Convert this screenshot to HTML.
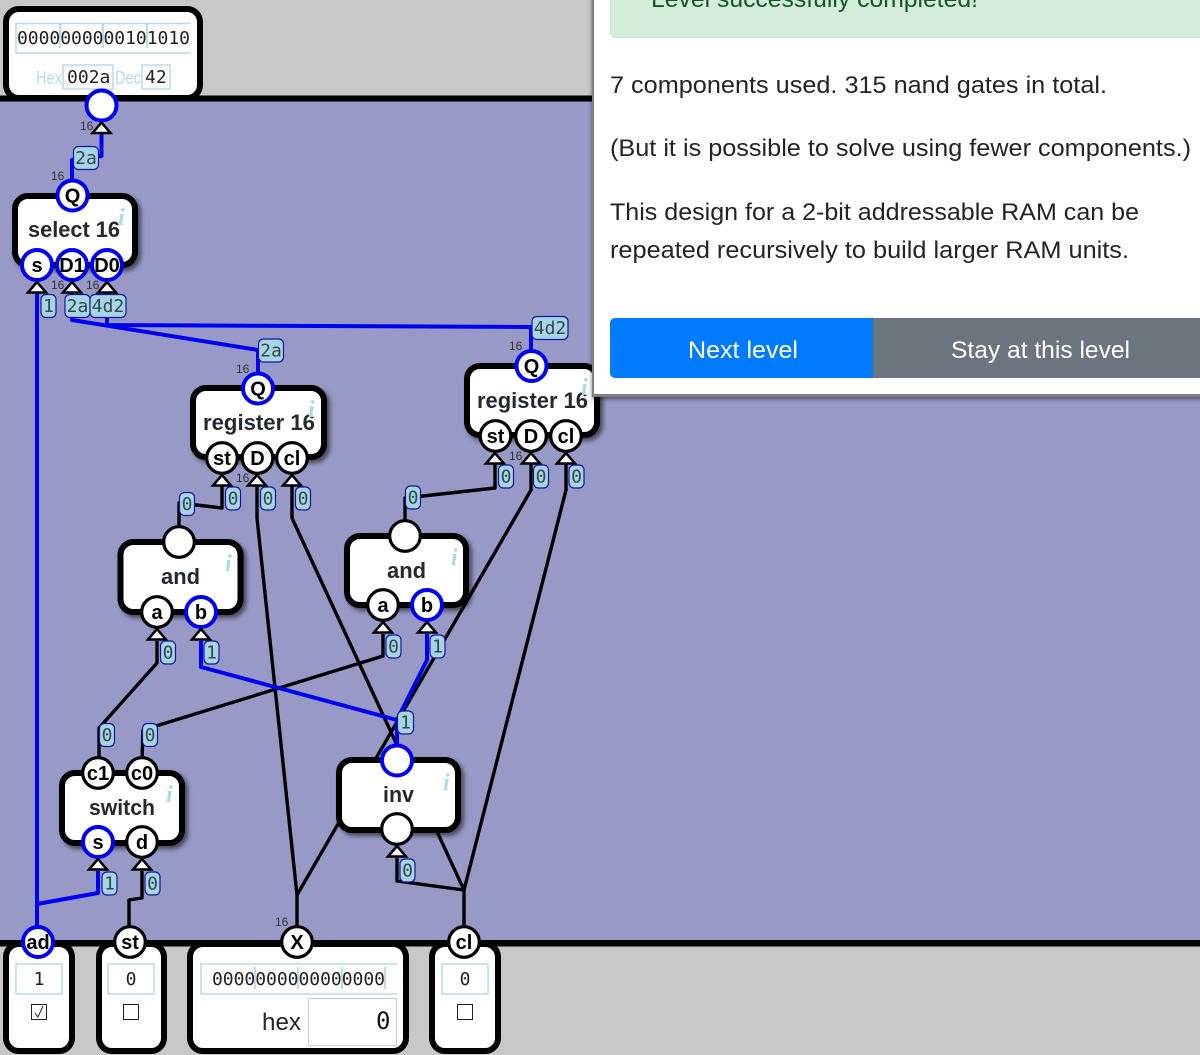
<!DOCTYPE html>
<html><head><meta charset="utf-8"><style>
html,body{margin:0;padding:0;background:#c8c8c8}
svg{display:block}
.s{font-family:"Liberation Sans",sans-serif}
.m{font-family:"DejaVu Sans Mono","Liberation Mono",monospace}
.t{font-family:"Liberation Sans",sans-serif;font-weight:bold;font-size:22px;fill:#222a30}
.p{font-family:"Liberation Sans",sans-serif;font-weight:bold;font-size:20px;fill:#000;text-anchor:middle}
.i{font-family:"Liberation Serif",serif;font-weight:bold;font-style:italic;font-size:24px;fill:#add8e6}
.n{font-family:"Liberation Sans",sans-serif;font-size:12px;fill:#333}
.l{font-family:"DejaVu Sans Mono",monospace;font-size:18px;fill:#34474f;text-anchor:middle}
.lb{fill:#a6d5e5;stroke:#1414a0;stroke-width:1.2}
.b{fill:#fff;stroke:#000;stroke-width:6}
.pk{fill:#fff;stroke:#000;stroke-width:3.2}
.pb{fill:#fff;stroke:#0000f0;stroke-width:4}
.w{fill:none;stroke:#000;stroke-width:3.4;stroke-linejoin:round}
.wb{fill:none;stroke:#0000f0;stroke-width:4;stroke-linejoin:round}
.a{fill:#fff;stroke:#000;stroke-width:2.5}
.f{fill:none;stroke:#b5dcea;stroke-width:1.5}
.d{stroke:#a5d2e2;stroke-width:1.5}
.v{font-family:"DejaVu Sans Mono",monospace;font-size:18px;fill:#222}
.c{font-family:"Liberation Sans",sans-serif;font-size:24px;fill:#212529}
.x{font-family:"Liberation Sans",sans-serif;font-size:18px;fill:#b5dcea}
</style></head><body>
<svg width="1200" height="1055" viewBox="0 0 1200 1055" xmlns="http://www.w3.org/2000/svg">
<defs>
<filter id="sh" x="-15%" y="-15%" width="135%" height="135%"><feDropShadow dx="3" dy="3" stdDeviation="2.5" flood-color="#000" flood-opacity=".55"/></filter>
<filter id="ps" x="-5%" y="-5%" width="110%" height="110%"><feDropShadow dx="0" dy="2" stdDeviation="2" flood-color="#000" flood-opacity=".5"/></filter>
</defs>

<rect width="1200" height="1055" fill="#c8c8c8"/>
<rect x="0" y="99" width="1200" height="844" fill="#9999c8"/>
<rect x="0" y="95.500" width="1200" height="6" fill="#000"/>
<rect x="0" y="940" width="1200" height="6.500" fill="#000"/>

<!-- output box -->
<rect class="b" x="6" y="9" width="194" height="89" rx="13"/>
<path class="f" d="M191 23.500H16V53H191"/>
<line class="d" x1="60" y1="24" x2="60" y2="48"/><line class="d" x1="103" y1="24" x2="103" y2="48"/><line class="d" x1="147" y1="24" x2="147" y2="48"/>
<text class="v" x="17" y="44" textLength="173">0000000000101010</text>
<text class="x" x="36" y="84" textLength="26" lengthAdjust="spacingAndGlyphs">Hex</text>
<rect class="f" x="63" y="65" width="50" height="24"/>
<text class="v" x="67" y="83">002a</text>
<text class="x" x="115" y="84" textLength="26" lengthAdjust="spacingAndGlyphs">Dec</text>
<rect class="f" x="142" y="65" width="28" height="24"/>
<text class="v" x="145" y="83">42</text>

<!-- wires black -->
<polyline class="w" points="222,486 222,508 179,503 179,530"/>
<polyline class="w" points="257,486 257,518 297,895 297,930"/>
<polyline class="w" points="292,486 292,518 464,890 464,930"/>
<polyline class="w" points="531,464 531,490 297,895"/>
<polyline class="w" points="566,464 566,490 464,890"/>
<polyline class="w" points="495,464 495,488 405,498 405,525"/>
<polyline class="w" points="157,641 157,663 99,728 99,760"/>
<polyline class="w" points="383,634 383,656 143,730 142,760"/>
<polyline class="w" points="142,871 142,898 129,900 129,930"/>
<polyline class="w" points="397,858 397,881 464,890"/>
<!-- wires blue -->
<polyline class="wb" points="101.500,134 101.500,156 72,160 72,182"/>
<polyline class="wb" points="37,292 37,930"/>
<polyline class="wb" points="72,292 72,320 258,350 258,376"/>
<polyline class="wb" points="107,292 107,325 531,327 531,352"/>
<polyline class="wb" points="201,641 201,667 397,720 397,748"/>
<polyline class="wb" points="427,634 427,660 397,720"/>
<polyline class="wb" points="98,871 98,893 37,904"/>

<!-- component boxes -->
<g filter="url(#sh)">
<rect class="b" x="15" y="196" width="120" height="69" rx="13"/>
<rect class="b" x="193" y="388" width="131" height="69" rx="13"/>
<rect class="b" x="467" y="366" width="130" height="69" rx="13"/>
<rect class="b" x="120.500" y="542" width="120" height="70" rx="13"/>
<rect class="b" x="347" y="536" width="119" height="69" rx="13"/>
<rect class="b" x="62" y="773" width="120" height="70" rx="13"/>
<rect class="b" x="339" y="760" width="119" height="70" rx="13"/>
</g>
<text class="t" x="28" y="237" textLength="92" lengthAdjust="spacingAndGlyphs">select 16</text>
<text class="i" x="118" y="225">i</text>
<text class="t" x="203" y="430" textLength="112" lengthAdjust="spacingAndGlyphs">register 16</text>
<text class="i" x="308" y="417">i</text>
<text class="t" x="477" y="408" textLength="111" lengthAdjust="spacingAndGlyphs">register 16</text>
<text class="i" x="581" y="395">i</text>
<text class="t" x="161" y="584" textLength="39" lengthAdjust="spacingAndGlyphs">and</text>
<text class="i" x="225" y="571">i</text>
<text class="t" x="387" y="578" textLength="39" lengthAdjust="spacingAndGlyphs">and</text>
<text class="i" x="451" y="565">i</text>
<text class="t" x="89" y="815" textLength="66" lengthAdjust="spacingAndGlyphs">switch</text>
<text class="i" x="166" y="802">i</text>
<text class="t" x="383" y="802" textLength="31" lengthAdjust="spacingAndGlyphs">inv</text>
<text class="i" x="443" y="790">i</text>

<!-- bottom input boxes -->
<rect class="b" x="6" y="944" width="66" height="107" rx="13"/>
<rect class="b" x="99" y="944" width="65" height="107" rx="13"/>
<rect class="b" x="190" y="944" width="216" height="107" rx="13"/>
<rect class="b" x="432" y="944" width="66" height="107" rx="13"/>
<rect class="f" x="16" y="964" width="46" height="30"/>
<text class="m" x="39" y="985" font-size="18" text-anchor="middle" fill="#222">1</text>
<rect x="31.500" y="1004.500" width="15" height="15" fill="#fff" stroke="#222" stroke-width="1"/>
<polyline points="35,1013 38,1017 43,1006" fill="none" stroke="#222" stroke-width="1"/>
<rect class="f" x="108" y="964" width="46" height="30"/>
<text class="m" x="131" y="985" font-size="18" text-anchor="middle" fill="#222">0</text>
<rect x="123.500" y="1004.500" width="15" height="15" fill="#fff" stroke="#222" stroke-width="1"/>
<rect class="f" x="442" y="964" width="46" height="30"/>
<text class="m" x="465" y="985" font-size="18" text-anchor="middle" fill="#222">0</text>
<rect x="457.500" y="1004.500" width="15" height="15" fill="#fff" stroke="#222" stroke-width="1"/>
<path class="f" d="M397 964H201V994H397"/>
<line class="d" x1="255" y1="967" x2="255" y2="989"/><line class="d" x1="298" y1="967" x2="298" y2="989"/><line class="d" x1="342" y1="967" x2="342" y2="989"/><line class="d" x1="385" y1="967" x2="385" y2="989"/>
<text class="v" x="212" y="985" textLength="173">0000000000000000</text>
<text class="c" x="262" y="1030" textLength="39" lengthAdjust="spacingAndGlyphs">hex</text>
<rect x="308.500" y="998.500" width="88" height="47" fill="#fff" stroke="#ccc" stroke-width="1"/>
<text class="m" x="376" y="1029" font-size="24" fill="#111">0</text>

<!-- pins -->
<circle class="pb" cx="101.500" cy="105.500" r="15"/>
<circle class="pb" cx="72.500" cy="195.500" r="15"/><text class="p" x="72.500" y="202.500">Q</text>
<circle class="pb" cx="37" cy="265" r="15"/><text class="p" x="37" y="272">s</text>
<circle class="pb" cx="72" cy="265" r="15"/><text class="p" x="72" y="272">D1</text>
<circle class="pb" cx="107" cy="265" r="15"/><text class="p" x="107" y="272">D0</text>
<circle class="pb" cx="258" cy="388.500" r="15"/><text class="p" x="258" y="395.500">Q</text>
<circle class="pk" cx="222" cy="458" r="15.300"/><text class="p" x="222" y="465">st</text>
<circle class="pk" cx="257.500" cy="458" r="15.300"/><text class="p" x="257.500" y="465">D</text>
<circle class="pk" cx="292" cy="458" r="15.300"/><text class="p" x="292" y="465">cl</text>
<circle class="pb" cx="531.500" cy="366" r="15"/><text class="p" x="531.500" y="373">Q</text>
<circle class="pk" cx="495.500" cy="436" r="15.300"/><text class="p" x="495.500" y="443">st</text>
<circle class="pk" cx="531" cy="436" r="15.300"/><text class="p" x="531" y="443">D</text>
<circle class="pk" cx="566" cy="436" r="15.300"/><text class="p" x="566" y="443">cl</text>
<circle class="pk" cx="179" cy="542" r="15.300"/>
<circle class="pk" cx="157" cy="612" r="15.300"/><text class="p" x="157" y="619">a</text>
<circle class="pb" cx="201" cy="612" r="15"/><text class="p" x="201" y="619">b</text>
<circle class="pk" cx="405" cy="536" r="15.300"/>
<circle class="pk" cx="383" cy="605" r="15.300"/><text class="p" x="383" y="612">a</text>
<circle class="pb" cx="427" cy="605" r="15"/><text class="p" x="427" y="612">b</text>
<circle class="pk" cx="98" cy="773" r="15.300"/><text class="p" x="98" y="780">c1</text>
<circle class="pk" cx="142" cy="773" r="15.300"/><text class="p" x="142" y="780">c0</text>
<circle class="pb" cx="98" cy="842" r="15"/><text class="p" x="98" y="849">s</text>
<circle class="pk" cx="142" cy="842" r="15.300"/><text class="p" x="142" y="849">d</text>
<circle class="pb" cx="397" cy="760.500" r="15"/>
<circle class="pk" cx="397" cy="829" r="15.300"/>
<circle class="pb" cx="38" cy="942" r="15"/><text class="p" x="38" y="949">ad</text>
<circle class="pk" cx="130" cy="942" r="15.300"/><text class="p" x="130" y="949">st</text>
<circle class="pk" cx="297" cy="942" r="15.300"/><text class="p" x="297" y="949">X</text>
<circle class="pk" cx="464" cy="942" r="15.300"/><text class="p" x="464" y="949">cl</text>

<!-- arrowheads -->
<polygon class="a" points="101.500,122.500 92.500,133 110.500,133"/>
<polygon class="a" points="37,282 28,292.500 46,292.500"/>
<polygon class="a" points="72,282 63,292.500 81,292.500"/>
<polygon class="a" points="107,282 98,292.500 116,292.500"/>
<polygon class="a" points="222,475 213,485.500 231,485.500"/>
<polygon class="a" points="257,475 248,485.500 266,485.500"/>
<polygon class="a" points="292,475 283,485.500 301,485.500"/>
<polygon class="a" points="495,453 486,463.500 504,463.500"/>
<polygon class="a" points="531,453 522,463.500 540,463.500"/>
<polygon class="a" points="566,453 557,463.500 575,463.500"/>
<polygon class="a" points="157,629 148,639.500 166,639.500"/>
<polygon class="a" points="201,629 192,639.500 210,639.500"/>
<polygon class="a" points="383,622 374,632.500 392,632.500"/>
<polygon class="a" points="427,622 418,632.500 436,632.500"/>
<polygon class="a" points="98,859 89,869.500 107,869.500"/>
<polygon class="a" points="142,859 133,869.500 151,869.500"/>
<polygon class="a" points="397,846 388,856.500 406,856.500"/>

<!-- width labels -->
<text class="n" x="80" y="130">16</text>
<text class="n" x="51" y="180">16</text>
<text class="n" x="51" y="289">16</text>
<text class="n" x="86" y="289">16</text>
<text class="n" x="236" y="373">16</text>
<text class="n" x="236" y="482">16</text>
<text class="n" x="509" y="350">16</text>
<text class="n" x="509" y="460">16</text>
<text class="n" x="275" y="926">16</text>

<!-- value labels -->
<rect class="lb" x="73.500" y="146.500" width="25" height="23" rx="5"/><text class="l" x="86" y="164">2a</text>
<rect class="lb" x="41" y="294.500" width="15" height="23" rx="5"/><text class="l" x="48.500" y="312">1</text>
<rect class="lb" x="65" y="294.500" width="25" height="23" rx="5"/><text class="l" x="77.500" y="312">2a</text>
<rect class="lb" x="90" y="294.500" width="36" height="23" rx="5"/><text class="l" x="108" y="312">4d2</text>
<rect class="lb" x="258.500" y="339" width="25" height="23" rx="5"/><text class="l" x="271" y="356.500">2a</text>
<rect class="lb" x="532" y="316.500" width="36" height="23" rx="5"/><text class="l" x="550" y="334">4d2</text>
<rect class="lb" x="225.500" y="487" width="15" height="23" rx="5"/><text class="l" x="233" y="504.500">0</text>
<rect class="lb" x="260.500" y="487" width="15" height="23" rx="5"/><text class="l" x="268" y="504.500">0</text>
<rect class="lb" x="295.500" y="487" width="15" height="23" rx="5"/><text class="l" x="303" y="504.500">0</text>
<rect class="lb" x="179.500" y="492.500" width="15" height="23" rx="5"/><text class="l" x="187" y="510">0</text>
<rect class="lb" x="498.500" y="465" width="15" height="23" rx="5"/><text class="l" x="506" y="482.500">0</text>
<rect class="lb" x="533.500" y="465" width="15" height="23" rx="5"/><text class="l" x="541" y="482.500">0</text>
<rect class="lb" x="569" y="465" width="15" height="23" rx="5"/><text class="l" x="576.500" y="482.500">0</text>
<rect class="lb" x="405.500" y="486" width="15" height="23" rx="5"/><text class="l" x="413" y="503.500">0</text>
<rect class="lb" x="160.500" y="641" width="15" height="23" rx="5"/><text class="l" x="168" y="658.500">0</text>
<rect class="lb" x="204" y="641" width="15" height="23" rx="5"/><text class="l" x="211.500" y="658.500">1</text>
<rect class="lb" x="386" y="635" width="15" height="23" rx="5"/><text class="l" x="393.500" y="652.500">0</text>
<rect class="lb" x="430" y="635" width="15" height="23" rx="5"/><text class="l" x="437.500" y="652.500">1</text>
<rect class="lb" x="99.500" y="723.500" width="15" height="23" rx="5"/><text class="l" x="107" y="741">0</text>
<rect class="lb" x="142.500" y="723.500" width="15" height="23" rx="5"/><text class="l" x="150" y="741">0</text>
<rect class="lb" x="397.500" y="711" width="16" height="23" rx="5"/><text class="l" x="405.500" y="728.500">1</text>
<rect class="lb" x="102" y="872" width="15" height="23" rx="5"/><text class="l" x="109.500" y="889.500">1</text>
<rect class="lb" x="145" y="872" width="15" height="23" rx="5"/><text class="l" x="152.500" y="889.500">0</text>
<rect class="lb" x="400" y="859" width="15" height="23" rx="5"/><text class="l" x="407.500" y="876.500">0</text>

<!-- dialog panel -->
<rect x="592" y="-10" width="620" height="407" fill="#808080" filter="url(#ps)"/>
<rect x="594" y="-10" width="606" height="404" fill="#fff"/>
<rect x="610.500" y="-20" width="600" height="57.500" rx="5" fill="#d4edda" stroke="#c3e6cb"/>
<text class="s" x="651" y="7" font-size="24" fill="#155724" textLength="327" lengthAdjust="spacingAndGlyphs">Level successfully completed!</text>
<text class="c" x="610" y="93" textLength="497" lengthAdjust="spacingAndGlyphs">7 components used. 315 nand gates in total.</text>
<text class="c" x="610" y="156" textLength="581" lengthAdjust="spacingAndGlyphs">(But it is possible to solve using fewer components.)</text>
<text class="c" x="610" y="220" textLength="529" lengthAdjust="spacingAndGlyphs">This design for a 2-bit addressable RAM can be</text>
<text class="c" x="610" y="258" textLength="519" lengthAdjust="spacingAndGlyphs">repeated recursively to build larger RAM units.</text>
<path d="M615 318H873V378H615a5 5 0 0 1-5-5V323a5 5 0 0 1 5-5z" fill="#007bff"/>
<rect x="873" y="318" width="327" height="60" fill="#6c757d"/>
<text class="s" x="688" y="358" font-size="24" fill="#fff" textLength="110" lengthAdjust="spacingAndGlyphs">Next level</text>
<text class="s" x="951" y="358" font-size="24" fill="#fff" textLength="179" lengthAdjust="spacingAndGlyphs">Stay at this level</text>
</svg>
</body></html>
